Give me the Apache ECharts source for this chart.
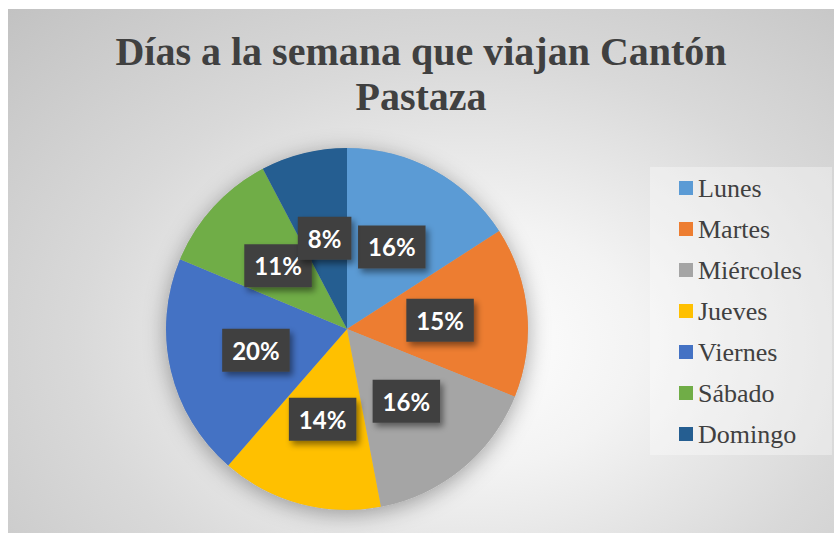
<!DOCTYPE html>
<html>
<head>
<meta charset="utf-8">
<script src="https://cdn.jsdelivr.net/npm/echarts@6/dist/echarts.min.js"></script>
<style>
  html, body { margin: 0; padding: 0; background: #ffffff; }
  #main {
    position: absolute;
    left: 8px;
    top: 9px;
    width: 826px;
    height: 524px;
    background: radial-gradient(ellipse farthest-corner at 56% 64%, #ffffff 0%, #f3f3f3 26%, #d9d9d9 60%, #c2c2c2 100%);
  }
</style>
</head>
<body>
<div id="main"></div>
<script>
// días y porcentaje de encuestados
const dias = ['Lunes', 'Martes', 'Miércoles', 'Jueves', 'Viernes', 'Sábado', 'Domingo']
const porcentajes = [15.9, 15.2, 15.9, 14.4, 19.9, 11.0, 7.7]
const colores = ['#5B9BD5', '#ED7D31', '#A5A5A5', '#FFC000', '#4472C4', '#70AD47', '#255E91']
const titulo = 'Días a la semana que viajan Cantón\nPastaza'

const serif = '"Liberation Serif", "Times New Roman", serif'

// svg: el texto queda como texto real del documento
const chart = echarts.init(document.getElementById('main'), null, { renderer: 'svg' })

const pieCenter = [339, 320]
const pieRadius = 181
const total = porcentajes.reduce((a, b) => a + b, 0)

chart.setOption({
  animation: false,
  title: {
    text: titulo,
    left: 'center',
    top: 20,
    padding: [0, 0, 0, 16],
    textStyle: {
      fontFamily: serif,
      fontWeight: 'bold',
      fontSize: 40,
      lineHeight: 45,
      color: '#404040',
    },
  },
  legend: {
    orient: 'vertical',
    left: 642,
    top: 158,
    padding: [8, 30, 8, 29],
    backgroundColor: 'rgba(255, 255, 255, 0.35)',
    icon: 'rect',
    itemWidth: 14,
    itemHeight: 14,
    itemGap: 15,
    data: dias,
    textStyle: {
      fontFamily: serif,
      fontSize: 26,
      lineHeight: 26,
      color: '#404040',
    },
  },
  series: [
    {
      // sombra suave bajo el pastel
      type: 'pie',
      silent: true,
      z: 1,
      center: pieCenter,
      radius: pieRadius,
      label: { show: false },
      labelLine: { show: false },
      data: [{ name: '', value: total }],
      itemStyle: {
        color: '#b0b0b0',
        shadowBlur: 22,
        shadowOffsetY: 4,
        shadowColor: 'rgba(0, 0, 0, 0.35)',
      },
    },
    {
      type: 'pie',
      z: 2,
      center: pieCenter,
      radius: pieRadius,
      startAngle: 90,
      clockwise: true,
      avoidLabelOverlap: false,
      emphasis: { disabled: true },
      itemStyle: { borderWidth: 0 },
      data: dias.map((name, i) => ({
        name,
        value: porcentajes[i],
        itemStyle: { color: colores[i] },
      })),
      label: {
        show: true,
        position: 'inside',
        formatter: (p) => `${Math.round(p.value)}%`,
        fontFamily: 'Lato',
        fontWeight: 'bold',
        fontSize: 24,
        color: '#ffffff',
        backgroundColor: '#404040',
        padding: [10, 10, 9, 10],
        shadowBlur: 6,
        shadowOffsetX: 3,
        shadowOffsetY: 4,
        shadowColor: 'rgba(0, 0, 0, 0.45)',
      },
      labelLine: { show: false },
      labelLayout: { hideOverlap: false },
    },
  ],
})
</script>
</body>
</html>
